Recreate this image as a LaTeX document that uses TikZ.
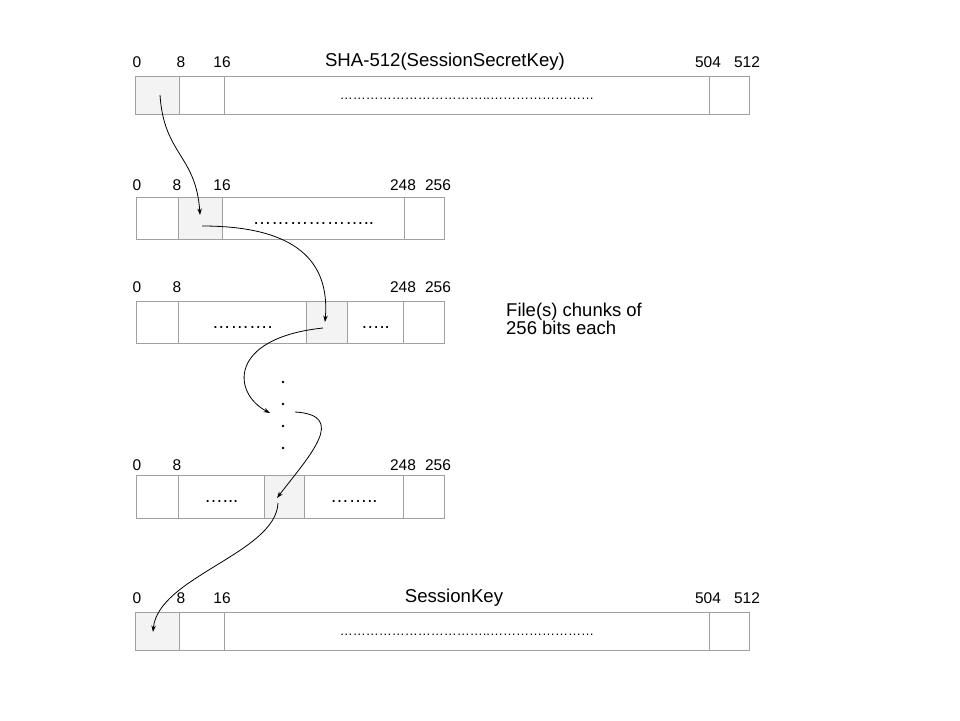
\documentclass[tikz,border=0pt]{standalone}
\usepackage{fontspec}
\setmainfont{Liberation Sans}
\usetikzlibrary{arrows.meta}
\definecolor{cellgray}{HTML}{F3F3F3}
\definecolor{linegray}{HTML}{A0A0A0}

\begin{document}
\begin{tikzpicture}[x=1pt, y=-1pt,
    cell/.style={rectangle, draw=linegray, line width=0.8pt, inner sep=0pt, anchor=north west},
    pick/.style={cell, fill=cellgray},
    bitno/.style={anchor=base, inner sep=0pt, font=\fontsize{15.5}{17}\selectfont},
    caption/.style={anchor=base, inner sep=0pt, font=\fontsize{18.6}{22}\selectfont},
    wide/.style={font=\fontsize{13}{15}\selectfont, text height=8pt, text depth=0pt},
    narrow/.style={font=\fontsize{18.5}{20}\selectfont, text height=12pt, text depth=0pt},
    dotmark/.style={circle, fill=black, inner sep=0pt, minimum size=2.8pt},
    hop/.style={-{Stealth[length=6.5pt, width=4.5pt]}, line width=0.8pt}]
\useasboundingbox (0,0) rectangle (960,720);

% SHA-512(SessionSecretKey)
\node[pick, minimum width=44, minimum height=38] (a1) at (135,76) {};
\node[cell, minimum width=45, minimum height=38] (a2) at (179,76) {};
\node[cell, wide, minimum width=485, minimum height=38] (a3) at (224,76) {……………………………..……………………};
\node[cell, minimum width=40, minimum height=38] (a4) at (709,76) {};
\node[caption] (atitle) at (445,66) {SHA-512(SessionSecretKey)};
\node[bitno] (a0) at (137,67) {0};
\node[bitno] (a8) at (181,67) {8};
\node[bitno] (a16) at (222,67) {16};
\node[bitno] (a504) at (708,67) {504};
\node[bitno] (a512) at (747,67) {512};

% first chunk
\node[cell, minimum width=42, minimum height=42] (b1) at (136,197) {};
\node[pick, minimum width=44, minimum height=42] (b2) at (178,197) {};
\node[cell, narrow, minimum width=182, minimum height=42] (b3) at (222,197) {………………..};
\node[cell, minimum width=40, minimum height=42] (b4) at (404,197) {};
\node[bitno] (b0) at (137,190) {0};
\node[bitno] (b8) at (177,190) {8};
\node[bitno] (b16) at (222,190) {16};
\node[bitno] (b248) at (403,190) {248};
\node[bitno] (b256) at (438,190) {256};

% second chunk
\node[cell, minimum width=42, minimum height=42] (c1) at (136,301) {};
\node[cell, narrow, minimum width=128, minimum height=42] (c2) at (178,301) {……….};
\node[pick, minimum width=41, minimum height=42] (c3) at (306,301) {};
\node[cell, narrow, minimum width=56, minimum height=42] (c4) at (347,301) {…..};
\node[cell, minimum width=41, minimum height=42] (c5) at (403,301) {};
\node[bitno] (c0) at (137,292) {0};
\node[bitno] (c8) at (177,292) {8};
\node[bitno] (c248) at (403,292) {248};
\node[bitno] (c256) at (438,292) {256};

\node[anchor=north west, inner sep=0pt, align=left, font=\fontsize{18.5}{18}\selectfont] (note) at (506,303) {File(s) chunks of\\256 bits each};

% more chunks
\node[dotmark] (v1) at (283,382) {};
\node[dotmark] (v2) at (283,404) {};
\node[dotmark] (v3) at (283,426) {};
\node[dotmark] (v4) at (283,448) {};

% last chunk
\node[cell, minimum width=42, minimum height=43] (d1) at (136,475) {};
\node[cell, narrow, minimum width=86, minimum height=43] (d2) at (178,475) {…...};
\node[pick, minimum width=40, minimum height=43] (d3) at (264,475) {};
\node[cell, narrow, minimum width=99, minimum height=43] (d4) at (304,475) {……..};
\node[cell, minimum width=41, minimum height=43] (d5) at (403,475) {};
\node[bitno] (d0) at (137,470) {0};
\node[bitno] (d8) at (177,470) {8};
\node[bitno] (d248) at (403,470) {248};
\node[bitno] (d256) at (438,470) {256};

% SessionKey
\node[pick, minimum width=44, minimum height=38] (e1) at (135,612) {};
\node[cell, minimum width=45, minimum height=38] (e2) at (179,612) {};
\node[cell, wide, minimum width=485, minimum height=38] (e3) at (224,612) {……………………………..……………………};
\node[cell, minimum width=40, minimum height=38] (e4) at (709,612) {};
\node[caption] (etitle) at (454,602) {SessionKey};
\node[bitno] (e0) at (137,603) {0};
\node[bitno] (e8) at (181,603) {8};
\node[bitno] (e16) at (222,603) {16};
\node[bitno] (e504) at (708,603) {504};
\node[bitno] (e512) at (747,603) {512};

% hops from byte to byte
\coordinate (a1out) at (160,95);
\coordinate (b2in) at (200,215);
\coordinate (b2out) at (202,226);
\coordinate (c3in) at (325,322);
\coordinate (c3out) at (323,328);
\coordinate (v2in) at (270,413);
\coordinate (v2out) at (295,412);
\coordinate (d3in) at (277,498);
\coordinate (d3out) at (278,503);
\coordinate (e1in) at (153,632);

\draw[hop] (a1out) .. controls +(4,60) and +(-4,-60) .. (b2in);
\draw[hop] (b2out) .. controls +(95,0) and +(5,-60) .. (c3in);
\draw[hop] (c3out) .. controls +(-95,10) and +(-38,-20) .. (v2in);
\draw[hop] (v2out) .. controls +(53,3) and +(33,-43) .. (d3in);
\draw[hop] (d3out) .. controls +(-2,50) and +(5,-55) .. (e1in);
\end{tikzpicture}
\end{document}
